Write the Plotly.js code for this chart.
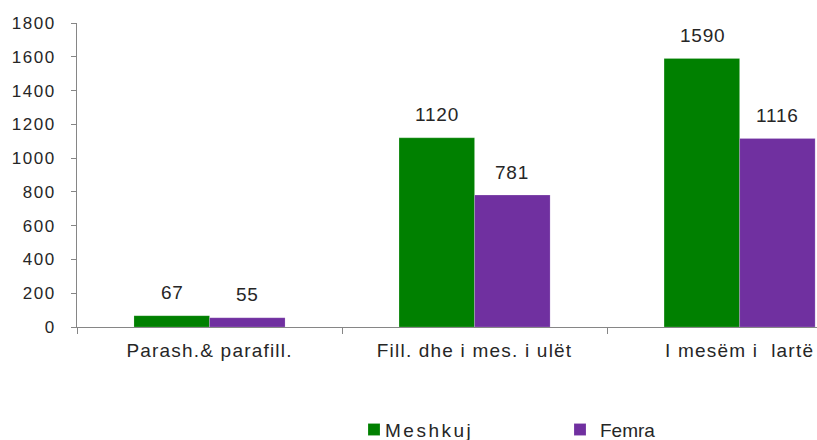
<!DOCTYPE html>
<html>
<head>
<meta charset="utf-8">
<script src="https://cdn.plot.ly/plotly-3.0.1.min.js"></script>
<style>
html,body{margin:0;padding:0;background:#fff;}
#chart{width:817px;height:440px;}
.xtick text{letter-spacing:1.2px;}
.ytick text{letter-spacing:1.5px;}
.legendtext{letter-spacing:2.5px;}
#chart .legendtext{transform:translateX(-9px);}
.annotation-text{letter-spacing:0.8px;}
</style>
</head>
<body>
<div id="chart"></div>
<script>
const categories = ["Parash.& parafill.", "Fill. dhe i mes. i ulët", "I mesëm i  lartë"];
const seriesNames = ["Meshkuj", "Femra"];
const meshkuj = [67, 1120, 1590];
const femra = [55, 781, 1116];
const yTicks = [0, 200, 400, 600, 800, 1000, 1200, 1400, 1600, 1800];

const colors = ["#008000", "#7030A0"];
const font = "Liberation Sans, Arial, sans-serif";
const txt = "#262626";
const values = [meshkuj, femra];
const legendIds = ["legend", "legend2"];

const traces = values.map((v, i) => ({
  type: "bar",
  name: seriesNames[i],
  x: categories,
  y: v,
  legend: legendIds[i],
  marker: {color: colors[i], line: {color: "rgba(255,255,255,0.35)", width: 0.5}},
  hoverinfo: "skip"
}));

const annotations = [];
values.forEach((v, i) => {
  v.forEach((val, j) => {
    annotations.push({
      x: categories[j], y: val, xref: "x", yref: "y",
      text: String(val), showarrow: false,
      xanchor: "center", yanchor: "middle",
      xshift: i === 0 ? -37.5 : 37.5, yshift: 23,
      font: {family: font, size: 19, color: txt}
    });
  });
});

const legendBase = {
  orientation: "h", xanchor: "left", yanchor: "top", y: -0.275,
  itemwidth: 30, bgcolor: "rgba(0,0,0,0)",
  font: {family: font, size: 19, color: txt}
};

const layout = {
  width: 817, height: 440,
  margin: {l: 77, r: 0, t: 23, b: 113, autoexpand: false},
  paper_bgcolor: "#fff", plot_bgcolor: "#fff",
  barmode: "group", bargap: 0.43, bargroupgap: 0,
  font: {family: font, size: 19, color: txt},
  xaxis: {
    type: "category", autorange: false, range: [-0.5, 2.292],
    showline: true, linecolor: "#868686", linewidth: 1,
    ticks: "outside", tickson: "boundaries", ticklen: 6, tickcolor: "#868686",
    ticklabelstandoff: 6,
    showgrid: false, zeroline: false,
    tickfont: {family: font, size: 19, color: txt}
  },
  yaxis: {
    autorange: false, range: [0, 1800], tickvals: yTicks, ticktext: yTicks.map(String),
    showline: true, linecolor: "#868686", linewidth: 1,
    ticks: "outside", ticklen: 5, tickcolor: "#868686",
    ticklabelstandoff: 12,
    showgrid: false, zeroline: false,
    tickfont: {family: font, size: 17, color: txt}
  },
  showlegend: true,
  legend: Object.assign({}, legendBase, {x: (354 - 77) / 740}),
  legend2: Object.assign({}, legendBase, {x: (560 - 77) / 740}),
  annotations: annotations
};

Plotly.newPlot("chart", traces, layout, {displayModeBar: false, staticPlot: true});
</script>
</body>
</html>
